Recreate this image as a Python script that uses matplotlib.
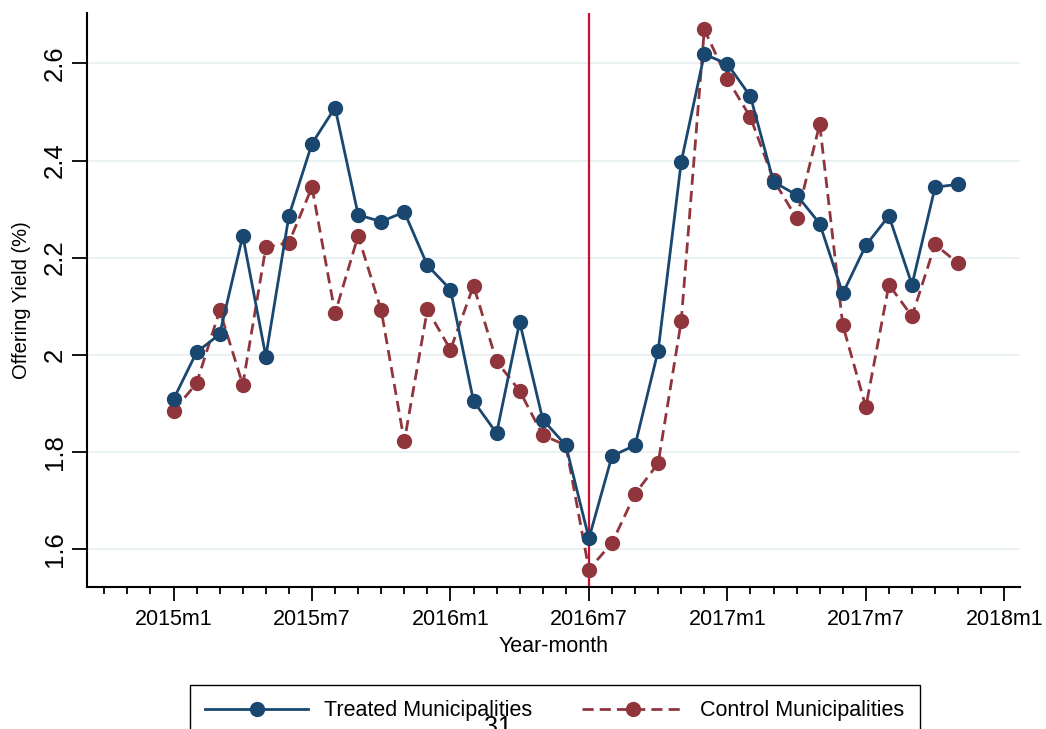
import numpy as np
import matplotlib.pyplot as plt
from matplotlib.ticker import MultipleLocator

plt.rcParams['font.family'] = ['Liberation Sans', 'DejaVu Sans']

# months counted from 2015m1 (0) to 2017m11 (34)
months = list(range(35))

treated = [1.908, 2.005, 2.042, 2.245, 1.996, 2.286, 2.435, 2.509, 2.288, 2.274,
           2.294, 2.184, 2.134, 1.904, 1.838, 2.067, 1.866, 1.813, 1.621, 1.791,
           1.813, 2.008, 2.397, 2.619, 2.599, 2.532, 2.356, 2.329, 2.270, 2.126,
           2.225, 2.286, 2.144, 2.345, 2.351]
control = [1.884, 1.941, 2.091, 1.938, 2.221, 2.231, 2.345, 2.085, 2.245, 2.091,
           1.821, 2.093, 2.010, 2.142, 1.986, 1.925, 1.834, 1.813, 1.557, 1.612,
           1.713, 1.776, 2.069, 2.670, 2.568, 2.489, 2.360, 2.281, 2.475, 2.061,
           1.892, 2.144, 2.079, 2.227, 2.188]

xtick_pos = [0, 6, 12, 18, 24, 30, 36]
xtick_labels = ['2015m1', '2015m7', '2016m1', '2016m7', '2017m1', '2017m7', '2018m1']
yticks = [1.6, 1.8, 2.0, 2.2, 2.4, 2.6]
ytick_labels = ['1.6', '1.8', '2', '2.2', '2.4', '2.6']
event_month = 18  # 2016m7

navy = '#1a476f'
maroon = '#90353b'

fig = plt.figure(figsize=(10.46, 7.29), dpi=100)
ax = fig.add_axes([87 / 1046, 1 - 587 / 729, (1020 - 87) / 1046, (587 - 13) / 729])

for y in yticks:
    ax.axhline(y, color='#e6eff1', lw=1.2, zorder=0)
ax.axvline(event_month, color='#c8102e', lw=1.6, zorder=1)

ax.plot(months, treated, color=navy, lw=2, marker='o', ms=10,
        label='Treated Municipalities', zorder=3)
ax.plot(months, control, color=maroon, lw=2, ls=(0, (4, 2.2)), marker='o', ms=10,
        label='Control Municipalities', zorder=2)

ax.set_xlim(-3.75, 36.68)
ax.set_ylim(1.521, 2.704)

ax.set_xticks(xtick_pos)
ax.set_xticklabels(xtick_labels, fontsize=15.5)
ax.xaxis.set_minor_locator(MultipleLocator(1))
ax.set_yticks(yticks)
ax.set_yticklabels(ytick_labels, fontsize=18.5)
for lab in ax.get_yticklabels():
    lab.set_rotation(90)
    lab.set_va('center')

ax.tick_params(axis='x', which='major', length=10, width=1.3, pad=5.5)
ax.tick_params(axis='x', which='minor', length=5, width=1.3)
ax.tick_params(axis='y', which='major', length=10.5, width=1.3, pad=4)

for side in ['top', 'right']:
    ax.spines[side].set_visible(False)
for side in ['left', 'bottom']:
    ax.spines[side].set_linewidth(1.5)

ax.set_xlabel('Year-month', fontsize=15.5)
ax.xaxis.set_label_coords(0.5, -0.0854)
ax.set_ylabel('Offering Yield (%)', fontsize=14.5)
ax.yaxis.set_label_coords(-0.06, 0.5)

fig.legend(loc='upper left', bbox_to_anchor=(190 / 1046, 1 - 685 / 729), ncol=2,
           fontsize=15.5, frameon=True, fancybox=False, edgecolor='black',
           framealpha=1, handlelength=4.8, handletextpad=0.72, columnspacing=2.3,
           borderpad=0.7, borderaxespad=0)

# page number of the source document, partly cut at the bottom edge
fig.text(498 / 1046, 1 - 715 / 729, '31', fontsize=18, ha='center', va='top', zorder=10)

fig.savefig('out.png', dpi=100)
